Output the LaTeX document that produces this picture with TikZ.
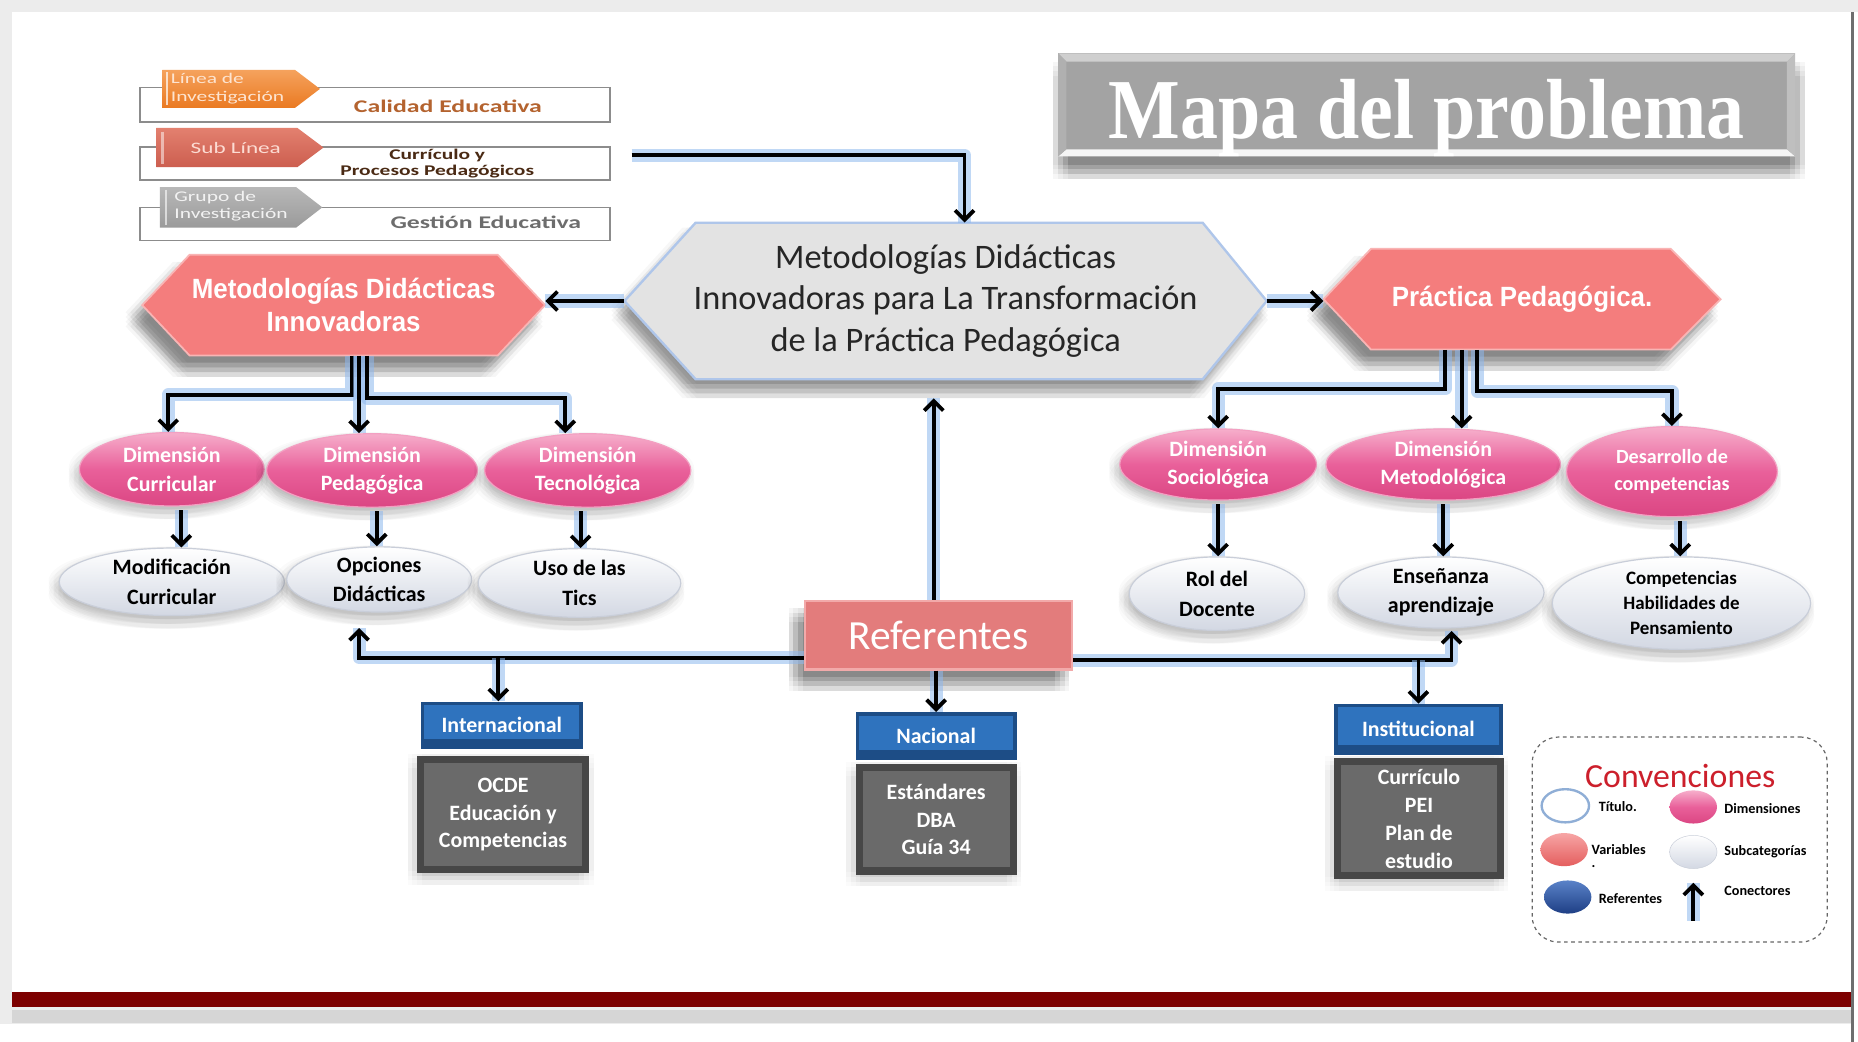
\documentclass[tikz,border=0pt]{standalone}
\usepackage{fontspec}
\setmainfont{Carlito}
\newfontfamily\calfont{Carlito}
\newfontfamily\widefont[FakeStretch=1.45]{Carlito}
\newfontfamily\narrfont[FakeStretch=0.93]{Liberation Sans}
\newfontfamily\ttlfont[FakeStretch=0.89]{Liberation Serif}
\usetikzlibrary{arrows.meta,shapes.geometric,shadows}
\newcommand\fsz[2]{\fontsize{#1}{#2}\selectfont}

\definecolor{glowc}{HTML}{8DB8EE}
\definecolor{pinkT}{HTML}{F6AECB}
\definecolor{pinkM}{HTML}{E9609A}
\definecolor{pinkB}{HTML}{DB4683}
\definecolor{pinkE}{HTML}{F3A0C2}
\definecolor{subB}{HTML}{D3D8E3}
\definecolor{subE}{HTML}{C9CED9}
\definecolor{salmon}{HTML}{F47D7D}
\definecolor{salmonE}{HTML}{F9B4B4}
\definecolor{refc}{HTML}{E37C7C}
\definecolor{refE}{HTML}{F2AAAA}
\definecolor{hexg}{HTML}{E3E3E3}
\definecolor{hexE}{HTML}{AFC6EA}
\definecolor{blueF}{HTML}{2F73BE}
\definecolor{blueD}{HTML}{1D4D86}
\definecolor{greyF}{HTML}{6A6A6A}
\definecolor{greyD}{HTML}{474747}
\definecolor{titF}{HTML}{A3A3A3}
\definecolor{titL}{HTML}{CFCFCF}
\definecolor{titS}{HTML}{B0B0B0}
\definecolor{frameg}{HTML}{ECECEC}
\definecolor{framed}{HTML}{6E6E6E}
\definecolor{barred}{HTML}{7D0000}
\definecolor{bandg}{HTML}{D6D6D6}
\definecolor{legline}{HTML}{8C8C8C}
\definecolor{orT}{HTML}{F5A25D}
\definecolor{orB}{HTML}{EA7A22}
\definecolor{saT}{HTML}{E3806F}
\definecolor{saB}{HTML}{CC5E4F}
\definecolor{grT}{HTML}{B8B8B8}
\definecolor{grB}{HTML}{9A9A9A}
\definecolor{tagonet}{HTML}{FDE4D0}
\definecolor{tagtwot}{HTML}{FCDCD3}
\definecolor{tagthreet}{HTML}{F2F2F2}
\definecolor{calc}{HTML}{B4632F}
\definecolor{curc}{HTML}{4A2A14}
\definecolor{gesc}{HTML}{6D6D6D}
\definecolor{convred}{HTML}{CC1F2B}
\definecolor{legBlueE}{HTML}{8FAED6}
\definecolor{varT}{HTML}{F7A5A5}
\definecolor{varB}{HTML}{E45E5E}
\definecolor{refT}{HTML}{5A82C8}
\definecolor{refB}{HTML}{1E3F85}

\tikzset{
 sh/.style n args={3}{general shadow={shadow xshift=#1, shadow yshift=#2, fill=black, opacity=#3}},
 softshd/.style n args={3}{%
   sh={#1-6pt}{#2-6pt}{#3}, sh={#1-2pt}{#2-6pt}{#3}, sh={#1+2pt}{#2-6pt}{#3}, sh={#1+6pt}{#2-6pt}{#3},
   sh={#1-6pt}{#2-2pt}{#3}, sh={#1-2pt}{#2-2pt}{#3}, sh={#1+2pt}{#2-2pt}{#3}, sh={#1+6pt}{#2-2pt}{#3},
   sh={#1-6pt}{#2+2pt}{#3}, sh={#1-2pt}{#2+2pt}{#3}, sh={#1+2pt}{#2+2pt}{#3}, sh={#1+6pt}{#2+2pt}{#3},
   sh={#1-6pt}{#2+6pt}{#3}, sh={#1-2pt}{#2+6pt}{#3}, sh={#1+2pt}{#2+6pt}{#3}, sh={#1+6pt}{#2+6pt}{#3}},
 conn/.style={draw=black, line width=3.2pt, line join=miter, -{Straight Barb[length=8pt,width=16pt]},
   preaction={draw=glowc, line width=11pt, draw opacity=0.55, arrows=-, line join=round}},
 dim/.style={ellipse, inner sep=-4pt, top color=pinkT, bottom color=pinkB, middle color=pinkM, draw=pinkE, line width=1pt, text=white, align=center, font=\calfont\bfseries\fsz{18.5}{24}, softshd={-3pt}{-5pt}{0.02}},
 sub/.style={ellipse, inner sep=-4pt, top color=white, bottom color=subB, draw=subE, line width=1pt, text=black, align=center, font=\calfont\bfseries\fsz{18.5}{25}, softshd={-3pt}{-5pt}{0.018}},
 hdr/.style={inner sep=0pt, fill=blueD, text=white, font=\calfont\bfseries\fsz{18.5}{22},
   path picture={\fill[blueF] ([shift={(3pt,-3pt)}]path picture bounding box.north west) rectangle ([shift={(-3pt,8pt)}]path picture bounding box.south east);}},
 bodyb/.style={inner sep=0pt, fill=greyD, text=white, align=center, font=\calfont\bfseries\fsz{18.5}{23.5}, softshd={-2pt}{-4pt}{0.015},
   path picture={\fill[greyF] ([shift={(6pt,-6pt)}]path picture bounding box.north west) rectangle ([shift={(-6pt,6pt)}]path picture bounding box.south east);}},
 hexnode/.style={inner sep=0pt, align=center},
 leg/.style={ellipse, inner sep=0pt, minimum width=40pt, minimum height=28pt},
 legt/.style={anchor=west, inner sep=0pt, font=\calfont\bfseries\fsz{12}{14}},
 tagt/.style={inner sep=0pt, align=left, font=\widefont\fsz{12.5}{15}},
}

\begin{document}
\begin{tikzpicture}[x=1pt,y=-1pt]
\useasboundingbox (0,0) rectangle (1568,879);

% ---------- frame ----------
\fill[frameg] (0,0) rectangle (1568,879);
\fill[white] (10,10) rectangle (1562,838);
\fill[white] (0,864) rectangle (1562,879);
\fill[barred] (10,837) rectangle (1562,850);
\fill[bandg] (10,852) rectangle (1562,863);
\fill[framed] (1562,10) rectangle (1564.5,879);
\fill[white] (1564.5,10) rectangle (1568,879);

% ---------- top-left research legend ----------
\draw[legline, line width=1.3pt] (118,74) rectangle (515,103);
\draw[legline, line width=1.3pt] (118,124) rectangle (515,152);
\draw[legline, line width=1.3pt] (118,175) rectangle (515,203);
\shade[top color=orT, bottom color=orB] (137,59) -- (249,59) -- (270,75) -- (249,91) -- (137,91) -- cycle;
\shade[top color=saT, bottom color=saB] (132,108) -- (251,108) -- (273,124.5) -- (251,141) -- (132,141) -- cycle;
\shade[top color=grT, bottom color=grB] (135,158) -- (250,158) -- (272,175) -- (250,192) -- (135,192) -- cycle;
\draw[white, opacity=0.7, line width=2pt] (141,61) -- (141,89);
\draw[white, opacity=0.5, line width=3pt] (137,111) -- (137,138);
\draw[white, opacity=0.6, line width=2pt] (140,160) -- (140,190);
\node[tagt, anchor=west, text=tagonet] (t1) at (144,75) {Línea de\\Investigación};
\node[tagt, text=tagtwot, font=\widefont\fsz{13.5}{15}] (t2) at (199,124.5) {Sub Línea};
\node[tagt, anchor=west, text=tagthreet] (t3) at (147,174) {Grupo de\\Investigación};
\node[inner sep=0pt, font=\widefont\bfseries\fsz{15}{17}, text=calc] (l1) at (378,90) {Calidad Educativa};
\node[inner sep=0pt, font=\widefont\bfseries\fsz{12.5}{14}, align=center, text=curc] (l2) at (369,138) {Currículo y\\Procesos Pedagógicos};
\node[inner sep=0pt, font=\widefont\bfseries\fsz{15}{17}, text=gesc] (l3) at (410,188) {Gestión Educativa};

% ---------- title ----------
\node[minimum width=622pt, minimum height=87pt, inner sep=0pt, fill=titF, softshd={2pt}{-13pt}{0.035},
  path picture={
    \fill[titL] (path picture bounding box.north west) -- (path picture bounding box.north east) -- ([shift={(-7pt,-7pt)}]path picture bounding box.north east) -- ([shift={(7pt,-7pt)}]path picture bounding box.north west) -- cycle;
    \fill[white!92!gray] (path picture bounding box.south west) -- (path picture bounding box.south east) -- ([shift={(-7pt,6pt)}]path picture bounding box.south east) -- ([shift={(7pt,6pt)}]path picture bounding box.south west) -- cycle;
    \fill[titS] (path picture bounding box.north west) -- ([shift={(7pt,-7pt)}]path picture bounding box.north west) -- ([shift={(7pt,6pt)}]path picture bounding box.south west) -- (path picture bounding box.south west) -- cycle;
    \fill[titL!80!gray] (path picture bounding box.north east) -- ([shift={(-7pt,-7pt)}]path picture bounding box.north east) -- ([shift={(-7pt,6pt)}]path picture bounding box.south east) -- (path picture bounding box.south east) -- cycle;
  }] (title) at (1204,88.5) {};
\node[anchor=base, text=white, font=\ttlfont\bfseries\fsz{72}{80}, inner sep=0pt] (titlet) at (1204,117) {Mapa del problema};

% ---------- hexagons (shapes first, named text nodes on top) ----------
\path[fill=hexg, draw=hexE, line width=2pt, softshd={-5pt}{-10pt}{0.03}] (527,254) -- (587,188) -- (1015,188) -- (1069,254) -- (1015,320) -- (587,320) -- cycle;
\path[fill=salmon, draw=salmonE, line width=1.5pt, softshd={-8pt}{-12pt}{0.035}] (120,257.5) -- (160,215) -- (420,215) -- (460,257.5) -- (420,300) -- (160,300) -- cycle;
\path[fill=salmon, draw=salmonE, line width=1.5pt, softshd={-8pt}{-12pt}{0.035}] (1117,252.5) -- (1157,210) -- (1410,210) -- (1452,252.5) -- (1410,295) -- (1157,295) -- cycle;

\node[hexnode, minimum width=542pt, minimum height=132pt, font=\calfont\fsz{29}{35}, text=black!85] (c) at (798,254) {Metodologías Didácticas\\Innovadoras para La Transformación\\de la Práctica Pedagógica};
\node[hexnode, minimum width=340pt, minimum height=85pt, text=white, font=\narrfont\bfseries\fsz{23.5}{28}] (lh) at (290,257.5) {Metodologías Didácticas\\Innovadoras};
\node[hexnode, minimum width=335pt, minimum height=85pt, text=white, font=\narrfont\bfseries\fsz{23.5}{28}] (rh) at (1284.5,252.5) {Práctica Pedagógica.};

% ---------- dimensions ----------
\node[dim, minimum width=156pt, minimum height=62pt] (d1) at (145,396) {Dimensión\\Curricular};
\node[dim, minimum width=178pt, minimum height=62pt] (d2) at (314,397) {Dimensión\\Pedagógica};
\node[dim, minimum width=174pt, minimum height=62pt] (d3) at (496,397) {Dimensión\\Tecnológica};
\node[dim, minimum width=166pt, minimum height=60pt] (d4) at (1028,392) {Dimensión\\Sociológica};
\node[dim, minimum width=198pt, minimum height=60pt] (d5) at (1218,392) {Dimensión\\Metodológica};
\node[dim, minimum width=178pt, minimum height=76pt, font=\calfont\bfseries\fsz{17}{23}] (d6) at (1411,398) {Desarrollo de\\competencias};

% ---------- subcategories ----------
\node[sub, minimum width=190pt, minimum height=57pt] (s1) at (145,491) {Modificación\\Curricular};
\node[sub, minimum width=156pt, minimum height=55pt] (s2) at (320,489) {Opciones\\Didácticas};
\node[sub, minimum width=171pt, minimum height=58pt] (s3) at (489,492) {Uso de las\\Tics};
\node[sub, minimum width=148pt, minimum height=62pt] (s4) at (1027,501) {Rol del\\Docente};
\node[sub, minimum width=174pt, minimum height=60pt] (s5) at (1216,500) {Enseñanza\\aprendizaje};
\node[sub, minimum width=218pt, minimum height=78pt, font=\calfont\bfseries\fsz{16}{21}] (s6) at (1419,509) {Competencias\\Habilidades de\\Pensamiento};

% ---------- referentes ----------
\node[fill=refc, draw=refE, line width=2pt, minimum width=225pt, minimum height=58pt, text=white, font=\calfont\fsz{35}{40}, softshd={-8pt}{-12pt}{0.035}] (ref) at (792,536) {Referentes};

\node[hdr, minimum width=137pt, minimum height=40pt] (int) at (423.5,612) {Internacional};
\node[bodyb, minimum width=145pt, minimum height=99pt] (intb) at (424.5,687.5) {OCDE\\Educación y\\Competencias};
\node[hdr, minimum width=136pt, minimum height=40pt] (nac) at (790,621) {Nacional};
\node[bodyb, minimum width=136pt, minimum height=93pt] (nacb) at (790,691.5) {Estándares\\DBA\\Guía 34};
\node[hdr, minimum width=142pt, minimum height=43pt] (inst) at (1197,615.5) {Institucional};
\node[bodyb, minimum width=143pt, minimum height=102pt] (instb) at (1197.5,691) {Currículo\\PEI\\Plan de\\estudio};

% ---------- connectors ----------
\coordinate (lg) at (533,131);
\draw[conn] (lg) -| ([xshift=16pt]c.north);
\draw[conn] (c.west) -- (c.west -| lh.east);
\draw[conn] (c.east) -- (c.east -| rh.west);

\draw[conn] ([xshift=7pt]lh.south) -- ++(0,33) -| ([xshift=-3pt]d1.north);
\draw[conn] ([xshift=13pt]lh.south) -- ([xshift=13pt]lh.south |- d2.north);
\draw[conn] ([xshift=20pt]lh.south) -- ++(0,36) -| ([xshift=-19pt]d3.north);

\draw[conn] ([xshift=-65pt]rh.south) -- ++(0,33) -| (d4.north);
\draw[conn] ([xshift=-51pt]rh.south) -- ([xshift=-51pt]rh.south |- d5.north);
\draw[conn] ([xshift=-38pt]rh.south) -- ++(0,35) -| (d6.north);

\draw[conn, shorten <=3pt] ([xshift=8pt]d1.south) -- ([xshift=8pt]d1.south |- s1.north);
\draw[conn, shorten <=3pt] ([xshift=4pt]d2.south) -- ([xshift=4pt]d2.south |- s2.north);
\draw[conn, shorten <=3pt] ([xshift=-6pt]d3.south) -- ([xshift=-6pt]d3.south |- s3.north);
\draw[conn, shorten <=3pt] (d4.south) -- (d4.south |- s4.north);
\draw[conn, shorten <=3pt] (d5.south) -- (d5.south |- s5.north);
\draw[conn, shorten <=3pt] ([xshift=7pt]d6.south) -- ([xshift=7pt]d6.south |- s6.north);

\coordinate (hl) at (0,555);
\coordinate (hr) at (0,557);
\draw[conn, shorten >=13pt] ([yshift=-19pt]ref.west) -| ([xshift=-17pt]s2.south);
\draw[conn] ([xshift=-3pt]int.north |- hl) -- ([xshift=-3pt]int.north);
\draw[conn, shorten >=2pt] ([yshift=-21pt]ref.east) -| ([xshift=9pt]s5.south);
\draw[conn] (inst.north |- hr) -- (inst.north);
\draw[conn] (ref.south -| nac.north) -- (nac.north);
\draw[conn, shorten >=16pt] ([xshift=-4pt]ref.north) -- ([xshift=-4pt]ref.north |- c.south);

% ---------- conventions ----------
\node[draw=black!60, dashed, rounded corners=22pt, minimum width=249pt, minimum height=173pt, line width=1pt, fill=white] (conv) at (1417.5,708.5) {};
\node[inner sep=0pt, font=\calfont\fsz{28.5}{30}, text=convred] (convt) at (1418,655) {Convenciones};
\node[leg, fill=white, draw=legBlueE, line width=2pt] (lg1) at (1321,680) {};
\node[leg, top color=pinkT, bottom color=pinkB, middle color=pinkM] (lg2) at (1429,681) {};
\node[leg, top color=varT, bottom color=varB] (lg3) at (1320,717) {};
\node[leg, top color=white, bottom color=subB, draw=subE] (lg4) at (1429,719) {};
\node[leg, top color=refT, bottom color=refB] (lg5) at (1323,757) {};
\node[legt] (lt1) at (1349,681) {Título.};
\node[legt] (lt2) at (1455,682) {Dimensiones};
\node[legt] (lt3) at (1343,717) {Variables};
\node[legt] (lt3b) at (1343,731) {.};
\node[legt] (lt4) at (1455,719) {Subcategorías};
\node[legt] (lt5) at (1349,758) {Referentes};
\node[legt] (lt6) at (1455,752) {Conectores};
\coordinate (ca) at (1429,777);
\coordinate (cb) at (1429,745);
\draw[conn] (ca) -- (cb);
\end{tikzpicture}
\end{document}
